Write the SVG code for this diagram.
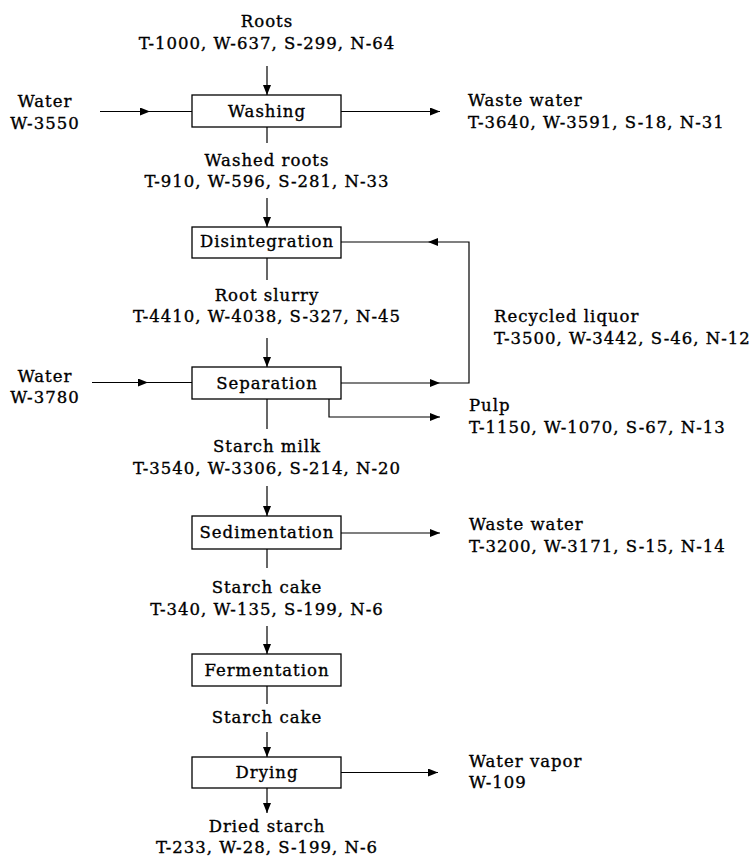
<svg xmlns="http://www.w3.org/2000/svg" width="755" height="856" viewBox="0 0 755 856">
  <defs>
    <marker id="arrow" viewBox="0 0 10 8" refX="10" refY="4" markerWidth="10" markerHeight="8" markerUnits="userSpaceOnUse" orient="auto">
      <path d="M0,0 L10,4 L0,8 Z" fill="#000"/>
    </marker>
    <style>
      text { font-family: "DejaVu Serif", "Liberation Serif", serif; font-size: 16.5px; letter-spacing: 1px; fill: #000; stroke: #000; stroke-width: 0.35px; }
      .c { text-anchor: middle; }
      .box rect { fill: #fff; stroke: #000; stroke-width: 1.3; }
      .box text { text-anchor: middle; }
      #connectors path, #connectors line { fill: none; stroke: #000; stroke-width: 1.2; }
      .arr { marker-end: url(#arrow); }
    </style>
  </defs>
  <rect width="755" height="856" fill="#fff"/>

  <!-- connectors -->
  <g id="connectors">
    <line class="arr" x1="267" y1="66" x2="267" y2="95"/>
    <line class="arr" x1="100" y1="111.5" x2="150" y2="111.5"/>
    <line x1="150" y1="111.5" x2="192" y2="111.5"/>
    <line class="arr" x1="341" y1="111.5" x2="440" y2="111.5"/>
    <line x1="267" y1="127" x2="267" y2="143"/>
    <line class="arr" x1="267" y1="198" x2="267" y2="227"/>
    <line x1="267" y1="258" x2="267" y2="280"/>
    <line class="arr" x1="267" y1="338" x2="267" y2="367"/>
    <line class="arr" x1="92" y1="382.5" x2="148" y2="382.5"/>
    <line x1="148" y1="382.5" x2="192" y2="382.5"/>
    <line class="arr" x1="341" y1="383" x2="440" y2="383"/>
    <path class="arr" d="M440,383 H469 V242 H428"/>
    <line x1="428" y1="242" x2="341" y2="242"/>
    <path class="arr" d="M329,399 V417 H440"/>
    <line x1="267" y1="399" x2="267" y2="429"/>
    <line class="arr" x1="267" y1="486" x2="267" y2="516"/>
    <line class="arr" x1="341" y1="533" x2="440" y2="533"/>
    <line x1="267" y1="549" x2="267" y2="568"/>
    <line class="arr" x1="267" y1="626" x2="267" y2="654"/>
    <line x1="267" y1="686" x2="267" y2="704"/>
    <line class="arr" x1="267" y1="732" x2="267" y2="757"/>
    <line class="arr" x1="341" y1="772.5" x2="438" y2="772.5"/>
    <line class="arr" x1="267" y1="788" x2="267" y2="813"/>
  </g>

  <!-- process units -->
  <g id="washing" class="box">
    <rect x="192" y="95" width="149" height="32"/>
    <text x="267" y="117">Washing</text>
  </g>
  <g id="disintegration" class="box">
    <rect x="192" y="227" width="149" height="31"/>
    <text x="267" y="247">Disintegration</text>
  </g>
  <g id="separation" class="box">
    <rect x="192" y="367" width="149" height="32"/>
    <text x="267" y="389">Separation</text>
  </g>
  <g id="sedimentation" class="box">
    <rect x="192" y="516" width="149" height="33"/>
    <text x="267" y="538">Sedimentation</text>
  </g>
  <g id="fermentation" class="box">
    <rect x="192" y="654" width="149" height="32"/>
    <text x="267" y="676">Fermentation</text>
  </g>
  <g id="drying" class="box">
    <rect x="192" y="757" width="149" height="31"/>
    <text x="267" y="778">Drying</text>
  </g>

  <!-- stream labels -->
  <g id="roots">
    <text class="c" x="267" y="27">Roots</text>
    <text class="c" x="267" y="49">T-1000, W-637, S-299, N-64</text>
  </g>
  <g id="water-1">
    <text class="c" x="45" y="107">Water</text>
    <text class="c" x="45" y="129">W-3550</text>
  </g>
  <g id="waste-water-1">
    <text x="468" y="106">Waste water</text>
    <text x="468" y="128">T-3640, W-3591, S-18, N-31</text>
  </g>
  <g id="washed-roots">
    <text class="c" x="267" y="166">Washed roots</text>
    <text class="c" x="267" y="187">T-910, W-596, S-281, N-33</text>
  </g>
  <g id="root-slurry">
    <text class="c" x="267" y="301">Root slurry</text>
    <text class="c" x="267" y="322">T-4410, W-4038, S-327, N-45</text>
  </g>
  <g id="recycled-liquor">
    <text x="494" y="322">Recycled liquor</text>
    <text x="494" y="344">T-3500, W-3442, S-46, N-12</text>
  </g>
  <g id="water-2">
    <text class="c" x="45" y="382">Water</text>
    <text class="c" x="45" y="403">W-3780</text>
  </g>
  <g id="pulp">
    <text x="469" y="411">Pulp</text>
    <text x="469" y="433">T-1150, W-1070, S-67, N-13</text>
  </g>
  <g id="starch-milk">
    <text class="c" x="267" y="452">Starch milk</text>
    <text class="c" x="267" y="474">T-3540, W-3306, S-214, N-20</text>
  </g>
  <g id="waste-water-2">
    <text x="469" y="530">Waste water</text>
    <text x="469" y="552">T-3200, W-3171, S-15, N-14</text>
  </g>
  <g id="starch-cake-1">
    <text class="c" x="267" y="593">Starch cake</text>
    <text class="c" x="267" y="615">T-340, W-135, S-199, N-6</text>
  </g>
  <g id="starch-cake-2">
    <text class="c" x="267" y="723">Starch cake</text>
  </g>
  <g id="water-vapor">
    <text x="469" y="767">Water vapor</text>
    <text x="469" y="788">W-109</text>
  </g>
  <g id="dried-starch">
    <text class="c" x="267" y="832">Dried starch</text>
    <text class="c" x="267" y="853">T-233, W-28, S-199, N-6</text>
  </g>
</svg>
